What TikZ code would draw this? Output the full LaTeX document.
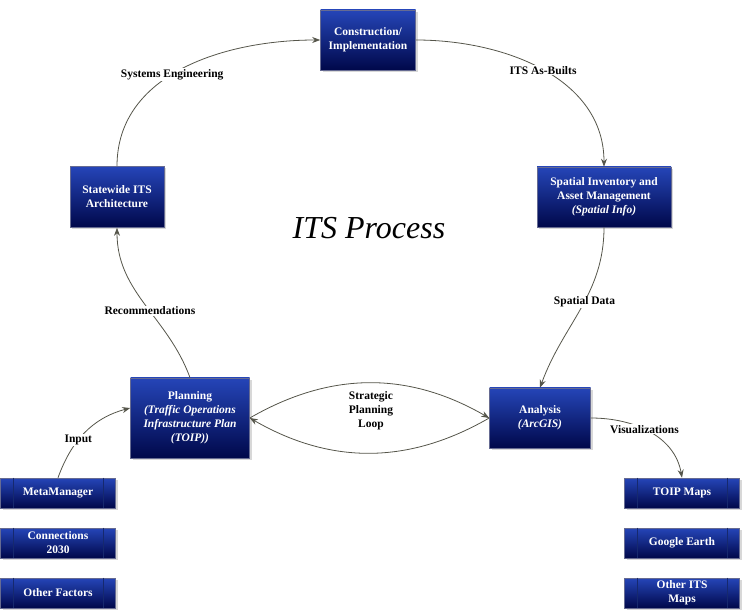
\documentclass[tikz,border=0pt]{standalone}
\usepackage{fontspec}
\setmainfont{Liberation Serif}
\usetikzlibrary{shadows,arrows.meta}
\definecolor{boxtop}{HTML}{2545B8}
\definecolor{boxbot}{HTML}{00084A}
\definecolor{linkgray}{HTML}{55554A}
\tikzset{
  stage/.style={draw=boxbot!60!white, line width=0.6pt, top color=boxtop, bottom color=boxbot,
    text=white, font=\fontsize{11.5}{14}\selectfont\bfseries, align=center, inner sep=2pt,
    drop shadow={shadow xshift=2pt, shadow yshift=-2pt, fill=gray!60}},
  source/.style={stage, minimum width=115pt, minimum height=30pt},
  link/.style={draw=linkgray, line width=0.8pt, -{Stealth[length=8pt,width=6pt]}},
  tag/.style={font=\fontsize{11.5}{14}\selectfont\bfseries, fill=white, inner sep=1pt}
}
\newcommand{\sidebars}[1]{%
  \draw[boxtop!60!black, line width=0.5pt] ([xshift=13pt]#1.north west) -- ([xshift=13pt]#1.south west);
  \draw[boxtop!60!black, line width=0.5pt] ([xshift=-13pt]#1.north east) -- ([xshift=-13pt]#1.south east);}
\begin{document}
\begin{tikzpicture}[x=1pt,y=-1pt]
  \useasboundingbox (0,0) rectangle (745,612);

  % main cycle
  \node[stage, minimum width=95pt, minimum height=60pt] (build) at (368,40) {Construction/\\Implementation};
  \node[stage, minimum width=134pt, minimum height=60pt] (inventory) at (604,197) {Spatial Inventory and\\Asset Management\\\textit{(Spatial Info)}};
  \node[stage, minimum width=101pt, minimum height=60pt] (analysis) at (540,418) {Analysis\\\textit{(ArcGIS)}};
  \node[stage, minimum width=119pt, minimum height=80pt] (planning) at (190,418) {Planning\\\textit{(Traffic Operations}\\\textit{Infrastructure Plan}\\\textit{(TOIP))}};
  \node[stage, minimum width=94pt, minimum height=61pt] (arch) at (117,197) {Statewide ITS\\Architecture};

  \node[font=\fontsize{32}{36}\selectfont\itshape] (title) at (369,228) {ITS Process};

  % inputs and outputs
  \node[source] (meta) at (58,493) {MetaManager};
  \node[source] (conn) at (58,543) {Connections\\2030};
  \node[source] (other) at (58,593) {Other Factors};
  \node[source] (toip) at (682,493) {TOIP Maps};
  \node[source] (google) at (682,543) {Google Earth};
  \node[source] (itsmaps) at (682,593) {Other ITS\\Maps};
  \foreach \n in {meta,conn,other,toip,google,itsmaps} {\sidebars{\n}}

  % connectors
  \draw[link] (arch.north) to[out=90,in=180] node[tag, pos=0.45] {Systems Engineering} (build.west);
  \draw[link] (build.east) to[out=0,in=90] node[tag, pos=0.5] {ITS As-Builts} (inventory.north);
  \draw[link] (inventory.south) to[out=270,in=70] node[tag, pos=0.45] {Spatial Data} (analysis.north);
  \draw[link] (planning.north) to[out=110,in=270] node[tag, pos=0.45] {Recommendations} (arch.south);
  \draw[link] (planning.east) to[out=30,in=150] (analysis.west);
  \draw[link] (analysis.west) to[out=210,in=-30] (planning.east);
  \node[tag, align=center] (loop) at (371,411) {Strategic\\Planning\\Loop};
  \draw[link] (meta.north) to[out=70,in=195] node[tag, pos=0.4] {Input} ([yshift=10pt]planning.west);
  \draw[link] (analysis.east) to[out=0,in=100] node[tag, pos=0.45] {Visualizations} (toip.north);
\end{tikzpicture}
\end{document}
